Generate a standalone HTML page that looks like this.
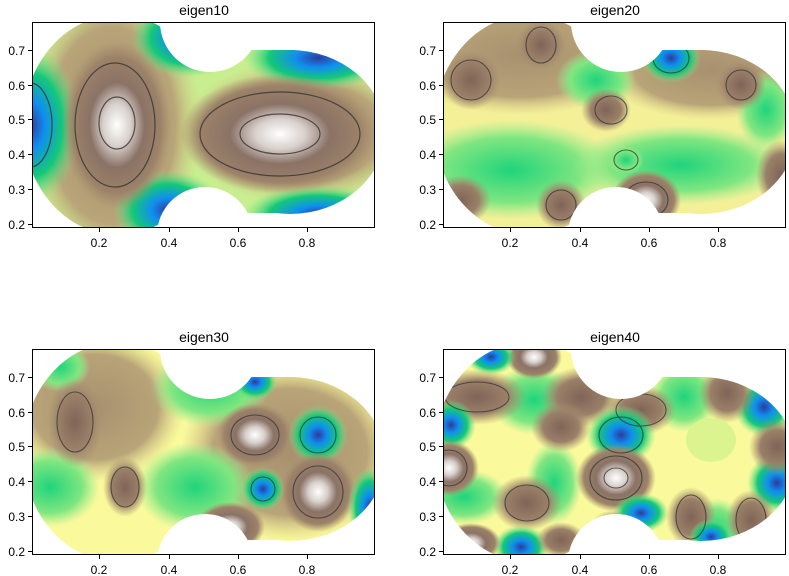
<!DOCTYPE html>
<html><head><meta charset="utf-8"><style>
body{margin:0;background:#fff}
svg{display:block}
text{font-family:"Liberation Sans","DejaVu Sans",sans-serif;fill:#000}
</style></head><body>
<svg width="789" height="576" viewBox="0 0 789 576" xmlns="http://www.w3.org/2000/svg">
<defs>
<mask id="m" maskUnits="userSpaceOnUse" x="0" y="0" width="400" height="260">
<rect x="0" y="0" width="400" height="260" fill="#000"/>
<ellipse cx="118" cy="125" rx="95" ry="110" fill="#fff"/>
<ellipse cx="290" cy="132" rx="95" ry="82" fill="#fff"/>
<rect x="118" y="31" width="130" height="191" fill="#fff"/>
<rect x="240" y="50" width="55" height="163" fill="#fff"/>
<circle cx="210" cy="22" r="50" fill="#000"/>
<circle cx="205" cy="235" r="48" fill="#000"/>
<rect x="0" y="0" width="32" height="260" fill="#000"/>
<rect x="375" y="0" width="30" height="260" fill="#000"/>
<rect x="0" y="0" width="400" height="22" fill="#000"/>
<rect x="0" y="228" width="400" height="40" fill="#000"/>
</mask>
<radialGradient id="pk"><stop offset="0" stop-color="#fff"/><stop offset=".25" stop-color="#d8d0cc"/><stop offset=".5" stop-color="#8a7266"/><stop offset=".8" stop-color="#9c8268"/><stop offset="1" stop-color="#a89070" stop-opacity="0"/></radialGradient>
<radialGradient id="br"><stop offset="0" stop-color="#806458"/><stop offset=".6" stop-color="#9a8068"/><stop offset="1" stop-color="#a89070" stop-opacity="0"/></radialGradient>
<radialGradient id="bl"><stop offset="0" stop-color="#2c3c9c"/><stop offset=".3" stop-color="#108ef0"/><stop offset=".65" stop-color="#14c878"/><stop offset="1" stop-color="#80e880" stop-opacity="0"/></radialGradient>
<radialGradient id="gr"><stop offset="0" stop-color="#20d47c"/><stop offset=".65" stop-color="#80e680"/><stop offset="1" stop-color="#a0ee90" stop-opacity="0"/></radialGradient>
<radialGradient id="tn"><stop offset="0" stop-color="#a89070"/><stop offset=".7" stop-color="#b8a478"/><stop offset="1" stop-color="#d8cc88" stop-opacity="0"/></radialGradient>
</defs>

<!-- panel 1 -->
<g>
<g mask="url(#m)">
<rect x="0" y="0" width="400" height="260" fill="#c8ee90"/>
<ellipse cx="112" cy="125" rx="90" ry="140" fill="url(#tn)"/>
<ellipse cx="300" cy="132" rx="120" ry="72" fill="url(#tn)"/>
<ellipse cx="30" cy="125" rx="50" ry="80" fill="url(#bl)"/>
<ellipse cx="186" cy="38" rx="55" ry="40" fill="url(#bl)"/>
<ellipse cx="318" cy="58" rx="75" ry="32" fill="url(#bl)"/>
<ellipse cx="168" cy="210" rx="55" ry="40" fill="url(#bl)"/>
<ellipse cx="318" cy="215" rx="75" ry="30" fill="url(#bl)"/>
<ellipse cx="117" cy="125" rx="55" ry="85" fill="url(#pk)"/>
<ellipse cx="280" cy="134" rx="100" ry="60" fill="url(#pk)"/>
<g fill="none" stroke="#333" stroke-width="1.2" opacity=".8">
<ellipse cx="115" cy="125" rx="40" ry="62"/><ellipse cx="117" cy="123" rx="18" ry="26"/>
<ellipse cx="280" cy="134" rx="80" ry="42"/><ellipse cx="280" cy="134" rx="40" ry="20"/>
<ellipse cx="30" cy="125" rx="22" ry="42"/>
</g>
</g>
<rect x="32.5" y="22.5" width="342" height="205" fill="none" stroke="#000"/>
</g>

<!-- panel 2 -->
<g transform="translate(411,0)">
<g mask="url(#m)">
<rect x="0" y="0" width="400" height="260" fill="#f4f098"/>
<ellipse cx="110" cy="55" rx="130" ry="60" fill="url(#tn)"/>
<ellipse cx="300" cy="70" rx="110" ry="50" fill="url(#tn)"/>
<ellipse cx="100" cy="170" rx="110" ry="50" fill="url(#gr)"/>
<ellipse cx="270" cy="165" rx="110" ry="40" fill="url(#gr)"/>
<ellipse cx="185" cy="80" rx="40" ry="30" fill="url(#gr)"/>
<ellipse cx="355" cy="110" rx="30" ry="40" fill="url(#gr)"/>
<ellipse cx="60" cy="80" rx="30" ry="30" fill="url(#br)"/>
<ellipse cx="130" cy="45" rx="25" ry="25" fill="url(#br)"/>
<ellipse cx="195" cy="110" rx="25" ry="22" fill="url(#br)"/>
<ellipse cx="260" cy="58" rx="30" ry="25" fill="url(#bl)"/>
<ellipse cx="330" cy="85" rx="25" ry="25" fill="url(#br)"/>
<ellipse cx="50" cy="200" rx="30" ry="25" fill="url(#br)"/>
<ellipse cx="150" cy="205" rx="25" ry="25" fill="url(#br)"/>
<ellipse cx="235" cy="200" rx="35" ry="30" fill="url(#pk)"/>
<ellipse cx="370" cy="175" rx="25" ry="35" fill="url(#br)"/>
<ellipse cx="215" cy="160" rx="18" ry="14" fill="url(#gr)"/>
<g fill="none" stroke="#333" stroke-width="1.1" opacity=".75">
<ellipse cx="60" cy="80" rx="20" ry="20"/><ellipse cx="130" cy="45" rx="15" ry="18"/>
<ellipse cx="260" cy="58" rx="18" ry="15"/><ellipse cx="215" cy="160" rx="12" ry="10"/>
<ellipse cx="235" cy="200" rx="22" ry="18"/><ellipse cx="150" cy="205" rx="15" ry="15"/>
<ellipse cx="200" cy="110" rx="16" ry="14"/><ellipse cx="330" cy="85" rx="15" ry="15"/>
</g>
</g>
<rect x="32.5" y="22.5" width="342" height="205" fill="none" stroke="#000"/>
</g>

<!-- panel 3 -->
<g transform="translate(0,327)">
<g mask="url(#m)">
<rect x="0" y="0" width="400" height="260" fill="#fafa9c"/>
<ellipse cx="95" cy="80" rx="90" ry="75" fill="url(#tn)"/>
<ellipse cx="290" cy="125" rx="110" ry="90" fill="url(#tn)"/>
<ellipse cx="50" cy="160" rx="50" ry="40" fill="url(#gr)"/>
<ellipse cx="210" cy="60" rx="60" ry="40" fill="url(#gr)"/>
<ellipse cx="195" cy="160" rx="60" ry="45" fill="url(#gr)"/>
<ellipse cx="60" cy="40" rx="30" ry="25" fill="url(#gr)"/>
<ellipse cx="75" cy="95" rx="28" ry="45" fill="url(#br)"/>
<ellipse cx="125" cy="160" rx="22" ry="30" fill="url(#br)"/>
<ellipse cx="255" cy="108" rx="38" ry="32" fill="url(#pk)"/>
<ellipse cx="318" cy="108" rx="30" ry="30" fill="url(#bl)"/>
<ellipse cx="318" cy="165" rx="38" ry="40" fill="url(#pk)"/>
<ellipse cx="263" cy="162" rx="22" ry="22" fill="url(#bl)"/>
<ellipse cx="230" cy="200" rx="35" ry="25" fill="url(#pk)"/>
<ellipse cx="370" cy="180" rx="22" ry="40" fill="url(#bl)"/>
<ellipse cx="255" cy="55" rx="22" ry="18" fill="url(#bl)"/>
<g fill="none" stroke="#333" stroke-width="1.1" opacity=".75">
<ellipse cx="75" cy="95" rx="18" ry="30"/><ellipse cx="125" cy="160" rx="14" ry="20"/>
<ellipse cx="255" cy="108" rx="24" ry="20"/><ellipse cx="318" cy="108" rx="18" ry="18"/>
<ellipse cx="318" cy="165" rx="25" ry="26"/><ellipse cx="263" cy="162" rx="12" ry="12"/>
</g>
</g>
<rect x="32.5" y="22.5" width="342" height="205" fill="none" stroke="#000"/>
</g>

<!-- panel 4 -->
<g transform="translate(411,327)">
<g mask="url(#m)">
<rect x="0" y="0" width="400" height="260" fill="#fafa9c"/>
<ellipse cx="123" cy="73" rx="45" ry="35" fill="url(#gr)"/>
<ellipse cx="53" cy="170" rx="45" ry="28" fill="url(#gr)"/>
<ellipse cx="143" cy="156" rx="28" ry="42" fill="url(#gr)"/>
<ellipse cx="273" cy="70" rx="35" ry="35" fill="url(#gr)"/>
<ellipse cx="306" cy="203" rx="28" ry="32" fill="url(#gr)"/>
<ellipse cx="353" cy="80" rx="30" ry="30" fill="url(#bl)"/>
<ellipse cx="366" cy="156" rx="30" ry="30" fill="url(#bl)"/>
<ellipse cx="66" cy="70" rx="50" ry="28" fill="url(#br)"/>
<ellipse cx="170" cy="70" rx="40" ry="30" fill="url(#br)"/>
<ellipse cx="150" cy="100" rx="30" ry="25" fill="url(#br)"/>
<ellipse cx="230" cy="83" rx="35" ry="25" fill="url(#br)"/>
<ellipse cx="316" cy="66" rx="28" ry="30" fill="url(#br)"/>
<ellipse cx="366" cy="120" rx="28" ry="28" fill="url(#br)"/>
<ellipse cx="123" cy="30" rx="28" ry="22" fill="url(#pk)"/>
<ellipse cx="80" cy="30" rx="25" ry="18" fill="url(#bl)"/>
<ellipse cx="210" cy="108" rx="35" ry="30" fill="url(#bl)"/>
<ellipse cx="205" cy="151" rx="40" ry="34" fill="url(#pk)"/>
<ellipse cx="40" cy="98" rx="25" ry="25" fill="url(#bl)"/>
<ellipse cx="38" cy="141" rx="30" ry="28" fill="url(#pk)"/>
<ellipse cx="116" cy="176" rx="35" ry="28" fill="url(#br)"/>
<ellipse cx="110" cy="220" rx="28" ry="22" fill="url(#bl)"/>
<ellipse cx="60" cy="216" rx="30" ry="20" fill="url(#pk)"/>
<ellipse cx="150" cy="213" rx="25" ry="18" fill="url(#br)"/>
<ellipse cx="230" cy="186" rx="28" ry="20" fill="url(#bl)"/>
<ellipse cx="203" cy="203" rx="25" ry="20" fill="url(#br)"/>
<ellipse cx="280" cy="190" rx="25" ry="30" fill="url(#br)"/>
<ellipse cx="340" cy="193" rx="25" ry="30" fill="url(#br)"/>
<ellipse cx="300" cy="210" rx="22" ry="18" fill="url(#bl)"/>
<ellipse cx="300" cy="113" rx="25" ry="22" fill="#dcf490"/>
<g fill="none" stroke="#333" stroke-width="1.1" opacity=".75">
<ellipse cx="210" cy="108" rx="22" ry="18"/><ellipse cx="205" cy="151" rx="26" ry="22"/>
<ellipse cx="205" cy="151" rx="12" ry="10"/><ellipse cx="38" cy="141" rx="18" ry="18"/>
<ellipse cx="66" cy="70" rx="32" ry="15"/><ellipse cx="230" cy="83" rx="25" ry="16"/>
<ellipse cx="116" cy="176" rx="22" ry="18"/><ellipse cx="340" cy="193" rx="15" ry="22"/>
<ellipse cx="280" cy="190" rx="15" ry="22"/>
</g>
</g>
<rect x="32.5" y="22.5" width="342" height="205" fill="none" stroke="#000"/>
</g>

<!-- titles -->
<g font-size="14" text-anchor="middle">
<text x="204" y="15">eigen10</text>
<text x="615" y="15">eigen20</text>
<text x="204" y="342">eigen30</text>
<text x="615" y="342">eigen40</text>
</g>

<!-- ticks -->
<g stroke="#000" stroke-width="1">
<path d="M99.5 228v4M169.5 228v4M238.5 228v4M307.5 228v4M28 50.5h4M28 85.5h4M28 119.5h4M28 154.5h4M28 189.5h4M28 224.5h4"/>
<path d="M510.5 228v4M580.5 228v4M649.5 228v4M718.5 228v4M439 50.5h4M439 85.5h4M439 119.5h4M439 154.5h4M439 189.5h4M439 224.5h4"/>
<path d="M99.5 555v4M169.5 555v4M238.5 555v4M307.5 555v4M28 377.5h4M28 412.5h4M28 446.5h4M28 481.5h4M28 516.5h4M28 551.5h4"/>
<path d="M510.5 555v4M580.5 555v4M649.5 555v4M718.5 555v4M439 377.5h4M439 412.5h4M439 446.5h4M439 481.5h4M439 516.5h4M439 551.5h4"/>
</g>
<g font-size="12" text-anchor="middle">
<text x="99" y="247">0.2</text><text x="169" y="247">0.4</text><text x="238" y="247">0.6</text><text x="307" y="247">0.8</text>
<text x="510" y="247">0.2</text><text x="580" y="247">0.4</text><text x="649" y="247">0.6</text><text x="718" y="247">0.8</text>
<text x="99" y="574">0.2</text><text x="169" y="574">0.4</text><text x="238" y="574">0.6</text><text x="307" y="574">0.8</text>
<text x="510" y="574">0.2</text><text x="580" y="574">0.4</text><text x="649" y="574">0.6</text><text x="718" y="574">0.8</text>
</g>
<g font-size="12" text-anchor="end">
<text x="25" y="55">0.7</text><text x="25" y="90">0.6</text><text x="25" y="124">0.5</text><text x="25" y="159">0.4</text><text x="25" y="194">0.3</text><text x="25" y="229">0.2</text>
<text x="436" y="55">0.7</text><text x="436" y="90">0.6</text><text x="436" y="124">0.5</text><text x="436" y="159">0.4</text><text x="436" y="194">0.3</text><text x="436" y="229">0.2</text>
<text x="25" y="382">0.7</text><text x="25" y="417">0.6</text><text x="25" y="451">0.5</text><text x="25" y="486">0.4</text><text x="25" y="521">0.3</text><text x="25" y="556">0.2</text>
<text x="436" y="382">0.7</text><text x="436" y="417">0.6</text><text x="436" y="451">0.5</text><text x="436" y="486">0.4</text><text x="436" y="521">0.3</text><text x="436" y="556">0.2</text>
</g>
</svg>
</body></html>
